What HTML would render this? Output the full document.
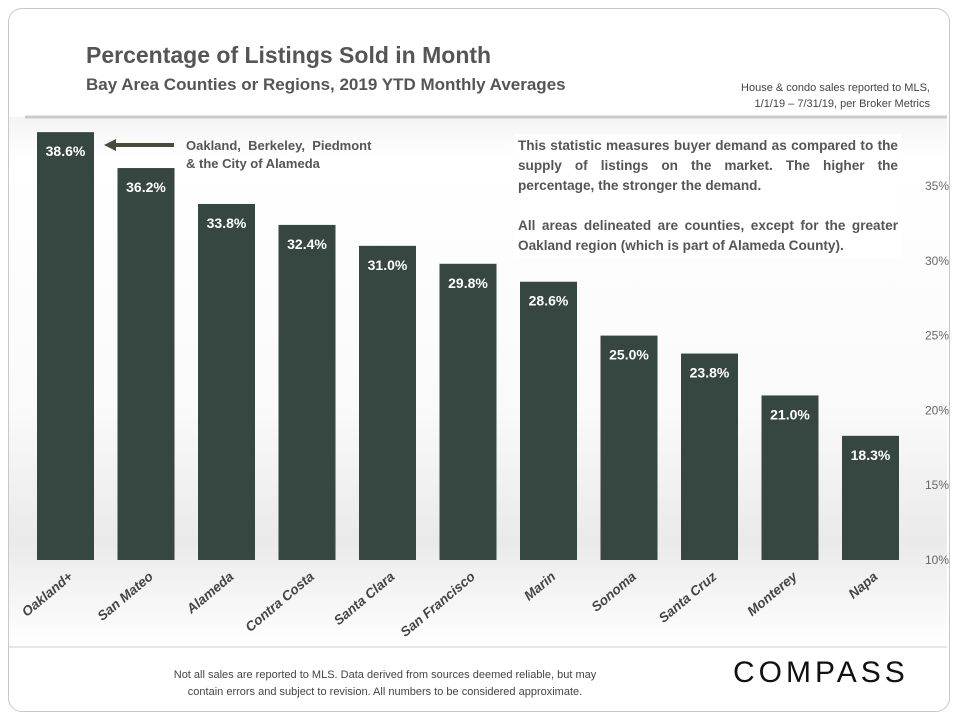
<!DOCTYPE html>
<html><head><meta charset="utf-8">
<style>
body{margin:0;width:960px;height:720px;background:#fff;font-family:"Liberation Sans",sans-serif;overflow:hidden}
#frame{position:absolute;left:8px;top:8px;width:940px;height:702px;border:1px solid #c8c8c8;border-radius:14px}
.t{position:absolute;white-space:nowrap}
</style></head><body>
<div id="frame"></div>
<div class="t" style="left:86px;top:42px;font-size:23px;font-weight:bold;color:#555">Percentage of Listings Sold in Month</div>
<div class="t" style="left:86px;top:75px;font-size:17px;font-weight:bold;color:#555">Bay Area Counties or Regions, 2019 YTD Monthly Averages</div>
<div class="t" style="left:700px;top:80px;font-size:11px;color:#444;text-align:right;line-height:16px;width:230px">House &amp; condo sales reported to MLS,<br>1/1/19 – 7/31/19, per Broker Metrics</div>
<svg id="chart" width="960" height="720" style="position:absolute;left:0;top:0">
<defs>
<linearGradient id="bg" x1="0" y1="0" x2="0" y2="1">
<stop offset="0" stop-color="#f4f4f4"/><stop offset="0.08" stop-color="#ffffff"/><stop offset="0.55" stop-color="#fafafa"/><stop offset="0.8" stop-color="#eaeaea"/><stop offset="1" stop-color="#ffffff"/>
</linearGradient>
</defs>
<rect x="9" y="117" width="938" height="530" fill="url(#bg)"/>
<line x1="25" y1="117" x2="947" y2="117" stroke="#ccc" stroke-width="3"/>
<line x1="9" y1="647" x2="947" y2="647" stroke="#ccc" stroke-width="1"/>
<g id="bars"></g>
<g id="ticks"></g>
<g id="cats"></g>
</svg>
<div class="t" style="left:186px;top:137px;font-size:13px;font-weight:bold;color:#555;line-height:18px">Oakland,&nbsp; Berkeley,&nbsp; Piedmont<br>&amp; the City of Alameda</div>
<svg width="80" height="16" style="position:absolute;left:102px;top:137px"><line x1="10" y1="8" x2="72" y2="8" stroke="#4a4a3a" stroke-width="4"/><polygon points="2,8 14,2 14,14" fill="#4a4a3a"/></svg>
<div class="t" style="left:514px;top:134px;width:380px;padding:2px 4px;background:#fff;font-size:13.6px;font-weight:bold;color:#555;line-height:20px;white-space:normal;text-align:justify">This statistic measures buyer demand as compared to the supply of listings on the market. The higher the percentage, the stronger the demand.<br><br>All areas delineated are counties, except for the greater Oakland region (which is part of Alameda County).</div>
<div class="t" style="left:150px;top:667px;width:470px;text-align:center;font-size:11px;color:#444;line-height:17px">Not all sales are reported to MLS. Data derived from sources deemed reliable, but may<br>contain errors and subject to revision. All numbers to be considered approximate.</div>
<div class="t" style="left:733px;top:656px;font-size:30px;letter-spacing:4px;color:#111">COMPASS</div>
<script>
const categories=["Oakland+","San Mateo","Alameda","Contra Costa","Santa Clara","San Francisco","Marin","Sonoma","Santa Cruz","Monterey","Napa"];
const values=[38.6,36.2,33.8,32.4,31.0,29.8,28.6,25.0,23.8,21.0,18.3];
const tickValues=[10,15,20,25,30,35];
const NS="http://www.w3.org/2000/svg";
const yMin=10,yMax=35,yBottom=560,yTop=186;
function y(v){return yBottom-(v-yMin)*(yBottom-yTop)/(yMax-yMin);}
function xc(i){return 65.5+i*80.5;}
const bw=57;
const bars=document.getElementById('bars'),ticks=document.getElementById('ticks'),cats=document.getElementById('cats');
values.forEach((v,i)=>{
  const r=document.createElementNS(NS,'rect');
  r.setAttribute('x',xc(i)-bw/2);r.setAttribute('y',y(v));r.setAttribute('width',bw);r.setAttribute('height',yBottom-y(v));r.setAttribute('fill','#364640');
  
  
  bars.appendChild(r);
  const t=document.createElementNS(NS,'text');
  t.setAttribute('x',xc(i));t.setAttribute('y',y(v)+24);t.setAttribute('text-anchor','middle');t.setAttribute('fill','#fff');t.setAttribute('font-size','14');t.setAttribute('font-weight','bold');t.setAttribute('font-family','Liberation Sans, sans-serif');
  t.textContent=v.toFixed(1)+'%';
  
  
  bars.appendChild(t);
  const c=document.createElementNS(NS,'text');
  const cx=xc(i)+8,cy=578;
  c.setAttribute('x',cx);c.setAttribute('y',cy);c.setAttribute('text-anchor','end');c.setAttribute('fill','#444');c.setAttribute('font-size','13.5');c.setAttribute('font-style','italic');c.setAttribute('font-weight','bold');c.setAttribute('font-family','Liberation Sans, sans-serif');
  c.setAttribute('transform','rotate(-40 '+cx+' '+cy+')');
  c.textContent=categories[i];
  
  
  cats.appendChild(c);
});
tickValues.forEach(v=>{
  const t=document.createElementNS(NS,'text');
  t.setAttribute('x',949);t.setAttribute('y',y(v)+4);t.setAttribute('text-anchor','end');t.setAttribute('fill','#666');t.setAttribute('font-size','12');t.setAttribute('font-family','Liberation Sans, sans-serif');
  t.textContent=v+'%';
  
  
  ticks.appendChild(t);
});
</script>
</body></html>
